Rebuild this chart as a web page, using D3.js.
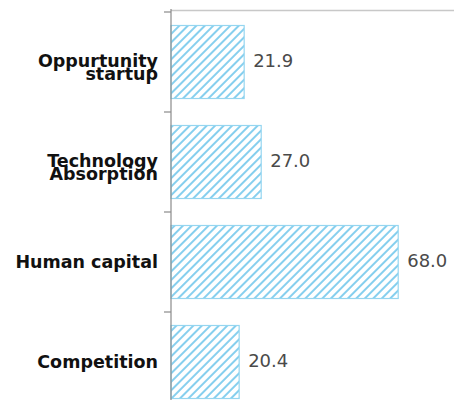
<!DOCTYPE html>
<html>
<head>
<meta charset="UTF-8">
<style>
body { margin: 0; background: #fff; }
.cat { font-family: "DejaVu Sans", sans-serif; font-weight: 700; font-size: 17.5px; fill: #111; }
.val { font-family: "DejaVu Sans", sans-serif; font-size: 18px; fill: #4a4a4a; }
</style>
</head>
<body>
<svg width="454" height="400"></svg>
<script src="https://cdn.jsdelivr.net/npm/d3@7"></script>
<script>
var categories = ["Oppurtunity\nstartup", "Technology\nAbsorption", "Human capital", "Competition"];
var values = [21.9, 27.0, 68.0, 20.4];
var valueLabels = ["21.9", "27.0", "68.0", "20.4"];

var svg = d3.select("svg");
var left = 171, marginTop = 12;

var x = d3.scaleLinear().domain([0, 85]).range([left, 455]);
var y = d3.scaleBand().domain(categories).range([marginTop, 412])
    .paddingInner(0.27).paddingOuter(0.135);

var defs = svg.append("defs");
var pat = defs.append("pattern")
    .attr("id", "hatch")
    .attr("patternUnits", "userSpaceOnUse")
    .attr("width", 6).attr("height", 6)
    .attr("patternTransform", "rotate(45)");
pat.append("rect").attr("width", 6).attr("height", 6).attr("fill", "#fff");
pat.append("line")
    .attr("x1", 0).attr("y1", 0).attr("x2", 0).attr("y2", 6)
    .attr("stroke", "#86cfee").attr("stroke-width", 4);

// top frame line
svg.append("line")
    .attr("x1", left).attr("x2", 454)
    .attr("y1", marginTop - 1.5).attr("y2", marginTop - 1.5)
    .attr("stroke", "#c8c8c8").attr("stroke-width", 1.5);

svg.selectAll(".bar")
    .data(values)
    .enter().append("rect")
    .attr("class", "bar")
    .attr("x", x(0))
    .attr("y", function(d, i) { return y(categories[i]); })
    .attr("width", function(d) { return x(d) - x(0); })
    .attr("height", y.bandwidth())
    .attr("fill", "url(#hatch)")
    .attr("stroke", "#95d6f0")
    .attr("stroke-width", 1.2);

// axis line + ticks between categories
svg.append("line")
    .attr("x1", left).attr("x2", left)
    .attr("y1", marginTop - 3).attr("y2", 400)
    .attr("stroke", "#8a8a8a").attr("stroke-width", 1.2);

var bounds = categories.map(function(c) { return y(c) - y.step() * y.paddingInner() / 2; });
svg.selectAll(".tick")
    .data(bounds)
    .enter().append("line")
    .attr("x1", left - 7).attr("x2", left)
    .attr("y1", function(d) { return d; }).attr("y2", function(d) { return d; })
    .attr("stroke", "#8a8a8a").attr("stroke-width", 1.2);

// category labels
var lab = svg.selectAll(".cat")
    .data(categories)
    .enter().append("text")
    .attr("class", "cat")
    .attr("text-anchor", "end")
    .attr("x", left - 13)
    .attr("y", function(d) { return y(d) + y.bandwidth() / 2; });
lab.each(function(d) {
  var lines = d.split("\n");
  var t = d3.select(this);
  lines.forEach(function(l, k) {
    t.append("tspan")
      .attr("x", left - 13)
      .attr("dy", lines.length === 1 ? "0.35em" : (k === 0 ? "0.28em" : "0.72em"))
      .text(l);
  });
});

// value labels
svg.selectAll(".val")
    .data(values)
    .enter().append("text")
    .attr("class", "val")
    .attr("x", function(d) { return x(d) + 9; })
    .attr("y", function(d, i) { return y(categories[i]) + y.bandwidth() / 2; })
    .attr("dy", "0.3em")
    .text(function(d, i) { return valueLabels[i]; });
</script>
</body>
</html>
